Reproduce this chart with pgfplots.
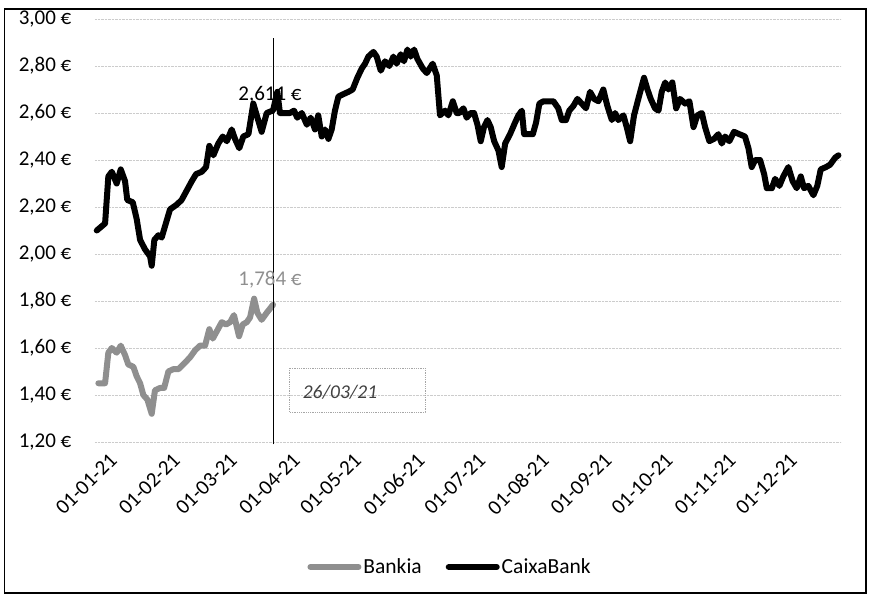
\documentclass[border=0pt]{standalone}
\usepackage{pgfplots}
\pgfplotsset{compat=1.18}
\usepackage{fontspec}
\setmainfont{Carlito}
\definecolor{bankgray}{rgb}{0.56,0.56,0.56}
\begin{document}
\begin{tikzpicture}
\useasboundingbox (0pt,0pt) rectangle (871pt,-599pt);
\draw[black, line width=1.5pt] (4.5pt,-9pt) rectangle (866pt,-593pt);
\begin{axis}[
  at={(94.9pt,-442pt)}, anchor=south west,
  scale only axis, width=746.2pt, height=423pt,
  xmin=-3.5, xmax=363, ymin=1.2, ymax=3.0,
  axis line style={draw=none},
  major tick length=0pt,
  ytick={1.2,1.4,1.6,1.8,2.0,2.2,2.4,2.6,2.8,3.0},
  yticklabels={{1,20 €},{1,40 €},{1,60 €},{1,80 €},{2,00 €},{2,20 €},{2,40 €},{2,60 €},{2,80 €},{3,00 €}},
  yticklabel style={font=\fontsize{21}{24}\selectfont, anchor=east, xshift=-20pt},
  xtick={0,31,59,90,120,151,181,212,243,273,304,334},
  xticklabels={01-01-21,01-02-21,01-03-21,01-04-21,01-05-21,01-06-21,01-07-21,01-08-21,01-09-21,01-10-21,01-11-21,01-12-21},
  xticklabel style={font=\fontsize{21}{24}\selectfont, rotate=45, anchor=north east, yshift=-8pt, xshift=1pt},
  ymajorgrids, xmajorgrids=false,
  major grid style={gray!40, densely dotted, line width=0.8pt},
  legend style={at={(0.476,-0.2955)}, anchor=center, draw=none, fill=none,
    font=\fontsize{21.5}{25}\selectfont, legend columns=2,
    /tikz/every even column/.append style={column sep=22pt}},
  legend image code/.code={\draw[#1] (0pt,0pt) -- (48pt,0pt);},
  clip=false,
]
\addplot[bankgray, line width=6pt, line join=round, line cap=round] coordinates {
(-1.8,1.45)(1.5,1.45)(3.1,1.58)(4.8,1.60)(7.2,1.58)(9.2,1.61)(11.3,1.57)(12.9,1.53)
(15.4,1.52)(17.0,1.48)(18.7,1.45)(20.3,1.40)(22.3,1.38)(24.4,1.32)(26.0,1.42)(28.5,1.43)
(30.5,1.43)(32.6,1.50)(35.0,1.51)(37.5,1.51)(39.9,1.53)(43.2,1.56)(45.7,1.59)(48.1,1.61)
(50.6,1.61)(52.7,1.68)(54.4,1.64)(56.3,1.67)(58.8,1.71)(60.9,1.70)(62.9,1.71)(64.8,1.74)
(67.3,1.65)(69.1,1.70)(71.1,1.71)(72.7,1.73)(74.7,1.81)(76.3,1.75)(78.4,1.72)(80.9,1.75)
(84,1.784)};
\addlegendentry{Bankia}
\addplot[black, line width=6pt, line join=round, line cap=round] coordinates {
(-2.6,2.10)(1.5,2.13)(3.1,2.33)(4.8,2.35)(7.2,2.30)(9.2,2.36)(11.3,2.31)(12.4,2.23)
(15.1,2.22)(17.0,2.15)(18.7,2.06)(21.1,2.02)(23.6,1.99)(24.4,1.95)(25.7,2.06)(27.7,2.08)
(29.3,2.07)(31.0,2.12)(33.4,2.19)(36.7,2.21)(39.1,2.23)(41.6,2.27)(44.1,2.31)(46.2,2.34)
(49.0,2.35)(51.1,2.37)(52.7,2.46)(54.7,2.42)(57.1,2.47)(59.3,2.50)(61.3,2.48)(63.7,2.53)
(65.3,2.49)(67.4,2.45)(69.4,2.50)(71.9,2.51)(74.3,2.64)(76.0,2.59)(78.4,2.52)(80.9,2.60)
(84,2.611)(86.1,2.69)(87.4,2.60)(89.9,2.60)(92.3,2.60)(94.3,2.61)(95.9,2.58)(98.1,2.60)
(100.6,2.55)(102.5,2.58)(104.6,2.53)(106.2,2.59)(107.9,2.50)(109.5,2.53)(111.2,2.49)(112.8,2.53)
(114.4,2.61)(116.1,2.67)(118.5,2.68)(121.0,2.69)(123.1,2.70)(125.4,2.75)(127.6,2.79)(129.2,2.81)
(130.8,2.84)(133.3,2.86)(134.9,2.84)(136.9,2.78)(139.0,2.82)(141.1,2.80)(143.1,2.84)(144.7,2.81)
(146.7,2.85)(148.3,2.82)(150.0,2.87)(151.6,2.84)(153.3,2.87)(154.9,2.83)(157.5,2.79)(159.5,2.77)
(162.4,2.81)(164.4,2.76)(166.0,2.59)(168.5,2.61)(170.1,2.59)(172.3,2.65)(174.2,2.60)(175.5,2.60)
(177.5,2.62)(179.1,2.58)(181.1,2.60)(182.7,2.60)(184.4,2.55)(186.0,2.48)(187.6,2.54)(189.3,2.57)
(190.9,2.54)(192.6,2.48)(194.7,2.44)(196.3,2.37)(198.0,2.47)(200.4,2.51)(202.9,2.56)(204.5,2.59)
(206.2,2.61)(207.3,2.51)(209.4,2.51)(211.6,2.51)(213.2,2.56)(214.8,2.64)(216.8,2.65)(219.2,2.65)
(221.7,2.65)(224.1,2.62)(225.8,2.57)(227.9,2.57)(229.5,2.61)(231.5,2.63)(233.5,2.66)(235.6,2.64)
(237.7,2.62)(239.7,2.69)(241.7,2.66)(243.8,2.65)(246.2,2.70)(248.2,2.63)(250.4,2.57)(252.0,2.60)
(253.6,2.57)(256.1,2.59)(257.7,2.54)(259.4,2.48)(261.3,2.59)(263.4,2.66)(266.2,2.75)(267.9,2.70)
(269.5,2.66)(271.6,2.62)(273.3,2.61)(274.9,2.69)(276.6,2.73)(278.2,2.70)(280.1,2.73)(282.0,2.62)
(283.9,2.66)(286.4,2.64)(288.5,2.65)(290.5,2.54)(292.4,2.59)(294.6,2.60)(296.2,2.54)(298.3,2.48)
(300.6,2.49)(302.7,2.51)(304.4,2.47)(306.0,2.50)(308.1,2.48)(310.4,2.52)(313.0,2.51)(315.8,2.50)
(317.5,2.45)(319.1,2.37)(320.8,2.40)(323.2,2.40)(325.2,2.34)(326.5,2.28)(329.0,2.28)(330.6,2.32)
(332.7,2.29)(334.6,2.33)(337.1,2.37)(339.2,2.31)(341.2,2.28)(343.2,2.33)(344.8,2.28)(346.9,2.29)
(349.4,2.25)(351.3,2.29)(353.0,2.36)(355.6,2.37)(357.6,2.38)(360.1,2.41)(361.7,2.42)};
\addlegendentry{CaixaBank}
\addplot[black, line width=1pt, forget plot] coordinates {(84,1.19) (84,2.92)};
\node[font=\fontsize{21}{24}\selectfont, text=black] at (axis cs:82.5,2.677) {2,611 €};
\node[font=\fontsize{21}{24}\selectfont, text=bankgray] at (axis cs:82.5,1.889) {1,784 €};
\end{axis}
\draw[gray!70, densely dotted, line width=0.8pt] (289pt,-368pt) rectangle (425pt,-412pt);
\node[font=\fontsize{19.5}{22}\selectfont\itshape, text=black!75] at (340pt,-392pt) {26/03/21};
\end{tikzpicture}
\end{document}
